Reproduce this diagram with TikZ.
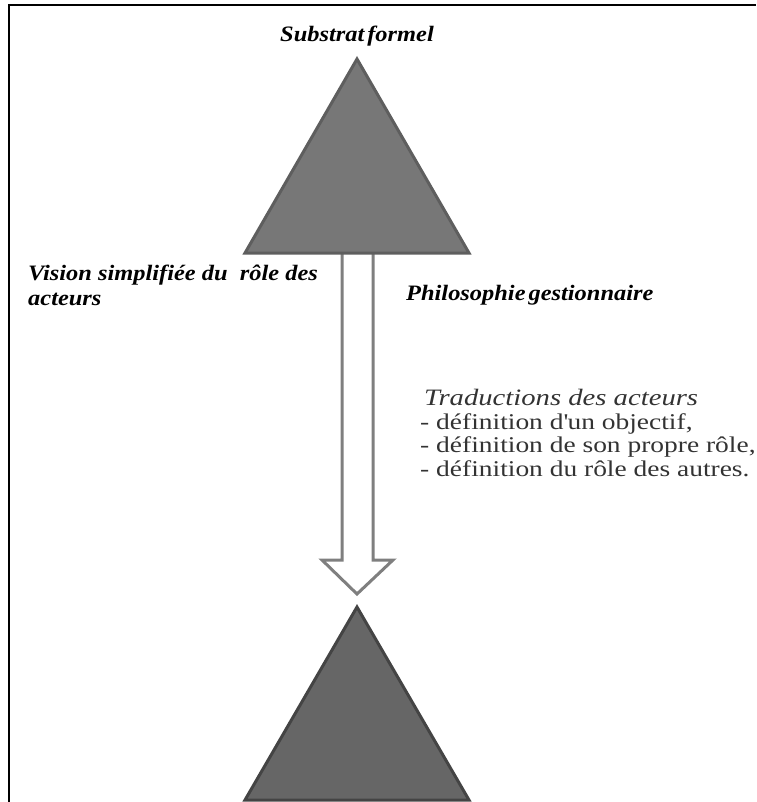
\documentclass[tikz,border=0pt]{standalone}
\usepackage{fontspec}
\setmainfont{Liberation Serif}
\newfontfamily\hdrfont{Liberation Serif}[FakeStretch=1.11]
\newfontfamily\txtfont{Liberation Serif}[FakeStretch=1.22]
\definecolor{triTop}{HTML}{777777}
\definecolor{triTopLine}{HTML}{5E5E5E}
\definecolor{triBot}{HTML}{666666}
\definecolor{triBotLine}{HTML}{444444}
\definecolor{arrowLine}{HTML}{7F7F7F}
\definecolor{bodyGray}{HTML}{333333}
\tikzset{
  frameline/.style={line width=2.5pt, black},
  lbl/.style={inner sep=0pt, font=\hdrfont\fontsize{22}{24}\selectfont\bfseries\itshape},
  bodytext/.style={inner sep=0pt, text=bodyGray, font=\txtfont\fontsize{22.5}{24}\selectfont},
}
\begin{document}
\begin{tikzpicture}[x=1pt,y=-1pt]
\useasboundingbox (0,0) rectangle (756,802);
% frame (left and top edges)
\draw[frameline] (9,802) -- (9,5) -- (756,5);
% key coordinates
\coordinate (topApex) at (357,59);
\coordinate (topL) at (245,253);
\coordinate (topR) at (469,253);
\coordinate (botApex) at (357,607);
\coordinate (botL) at (245,800);
\coordinate (botR) at (469,800);
% block arrow
\draw[arrowLine, line width=3pt, fill=white, line join=miter]
  (342,245) -- (342,560) -- (322,560) -- (357,594) -- (393,560) -- (373,560) -- (373,245);
% triangles
\draw[triTopLine, fill=triTop, line width=3pt, line join=miter] (topApex) -- (topR) -- (topL) -- cycle;
\draw[triBotLine, fill=triBot, line width=3pt, line join=miter] (botApex) -- (botR) -- (botL) -- cycle;
% labels
\node[lbl, anchor=base] (title) at (357,42) {Substrat\hspace{3pt}formel};
\node[lbl, anchor=base west] (vis1) at (28,280) {Vision simplifiée du\ \ rôle des};
\node[lbl, anchor=base west] (vis2) at (28,305) {acteurs};
\node[lbl, anchor=base west] (philo) at (406,300) {Philosophie\hspace{3pt}gestionnaire};
\node[bodytext, anchor=base west, font=\txtfont\fontsize{23.5}{24}\selectfont\itshape] (trad) at (424,405) {Traductions des acteurs};
\node[bodytext, anchor=base west] (b1) at (420,429) {- définition d\textquotesingle un objectif,};
\node[bodytext, anchor=base west] (b2) at (420,452.5) {- définition de son propre rôle,};
\node[bodytext, anchor=base west] (b3) at (420,476) {- définition du rôle des autres.};
\end{tikzpicture}
\end{document}
